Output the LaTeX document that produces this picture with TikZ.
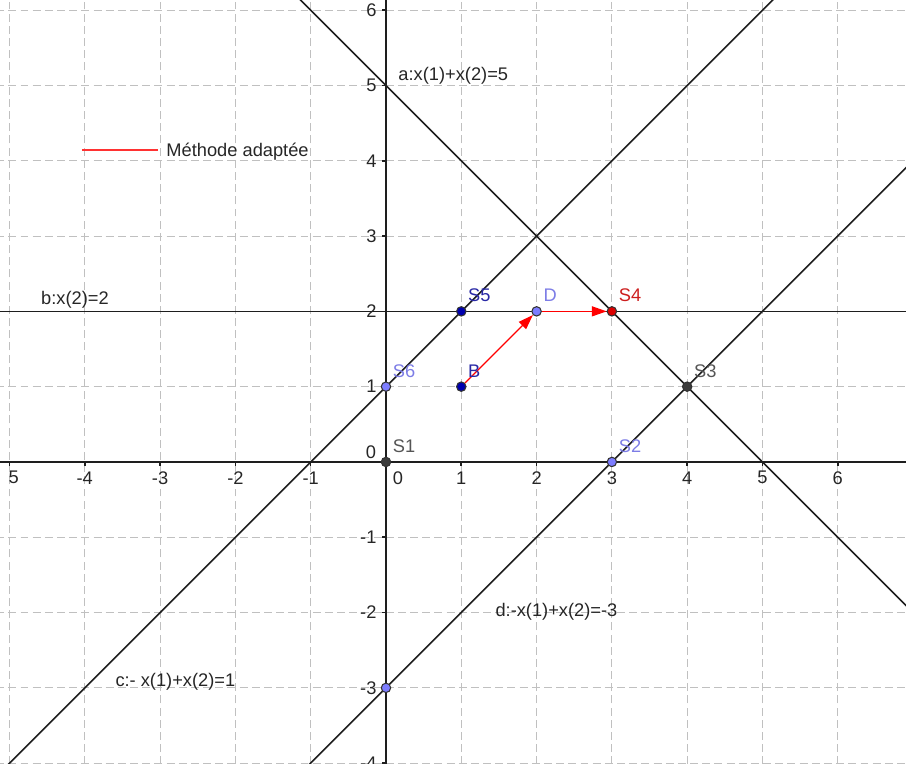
\documentclass[tikz,border=0pt]{standalone}
\usepackage{fontspec}
\setmainfont{Liberation Sans}
\usetikzlibrary{arrows.meta}
\definecolor{gridc}{RGB}{192,192,192}
\definecolor{linec}{RGB}{30,30,30}
\definecolor{dblue}{RGB}{0,0,175}
\definecolor{dbluetxt}{RGB}{40,40,165}
\definecolor{lblue}{RGB}{125,125,255}
\definecolor{lbluetxt}{RGB}{125,125,230}
\definecolor{dgray}{RGB}{60,60,60}
\definecolor{dgraytxt}{RGB}{85,85,85}
\definecolor{pred}{RGB}{220,0,0}
\definecolor{predtxt}{RGB}{204,30,30}
\definecolor{vecred}{RGB}{255,0,0}
\definecolor{legred}{RGB}{255,50,50}
\begin{document}
\begin{tikzpicture}[x=1cm,y=1cm,font=\fontsize{6.9}{8}\selectfont,
  gridline/.style={gridc,line width=0.4pt,dash pattern=on 3pt off 1.6pt},
  axisline/.style={linec,line width=0.6pt},
  eqline/.style={linec,line width=0.6pt},
  vec/.style={vecred,line width=0.45pt,-{Triangle[length=5.6pt,width=3.8pt]}},
  pt/.style={circle,inner sep=0pt,minimum size=0.125cm,line width=0.4pt,draw=black!80},
  ptlabel/.style={anchor=west,inner sep=0pt},
  ticklabel/.style={inner sep=0pt,text=black!85},
  eqlabel/.style={anchor=west,inner sep=0pt,text=black!85}]
\clip (-5.126,-4.011) rectangle (6.906,6.135);
% grid
\foreach \x in {-5,...,6} \draw[gridline] (\x,-4.5) -- (\x,6.5);
\foreach \y in {-4,...,6} \draw[gridline] (-5.5,\y) -- (7.5,\y);
% axes
\coordinate (xl) at (-5.5,0); \coordinate (xr) at (7.5,0);
\coordinate (yb) at (0,-4.5); \coordinate (yt) at (0,6.5);
\draw[axisline] (xl) -- (xr);
\draw[axisline] (yb) -- (yt);
\foreach \x in {-5,...,6} \draw[axisline] (\x,0) -- (\x,-0.05);
\foreach \y in {-4,...,6} \draw[axisline] (0,\y) -- (-0.05,\y);
% tick labels
\foreach \x in {-4,-3,-2,-1,1,2,3,4,5,6} \node[ticklabel] at (\x,-0.21) {\x};
\node[ticklabel] at (-4.945,-0.21) {5};
\node[ticklabel] at (0.16,-0.21) {0};
\foreach \y in {-4,-3,-2,-1,1,2,3,4,5,6} \node[ticklabel,anchor=east] at (-0.12,\y) {\y};
\node[ticklabel,anchor=east] at (-0.125,0.124) {0};
% lines
\coordinate (a1) at (-1.5,6.5); \coordinate (a2) at (7.5,-2.5);
\coordinate (b1) at (-5.5,2); \coordinate (b2) at (7.5,2);
\coordinate (c1) at (-5.5,-4.5); \coordinate (c2) at (5.5,6.5);
\coordinate (d1) at (-1.5,-4.5); \coordinate (d2) at (7.5,4.5);
\draw[eqline] (a1) -- (a2);
\draw[eqline] (b1) -- (b2);
\draw[eqline] (c1) -- (c2);
\draw[eqline] (d1) -- (d2);
% line labels
\node[eqlabel] (la) at (0.159,5.126) {a:x(1)+x(2)=5};
\node[eqlabel] (lb) at (-4.586,2.151) {b:x(2)=2};
\node[eqlabel] (lc) at (-3.599,-2.92) {c:- x(1)+x(2)=1};
\node[eqlabel] (ld) at (1.448,-1.99) {d:-x(1)+x(2)=-3};
% legend
\coordinate (leg1) at (-4.037,4.14); \coordinate (leg2) at (-3.028,4.14);
\draw[legred,line width=0.55pt] (leg1) -- (leg2);
\node[eqlabel] (legt) at (-2.922,4.127) {Méthode adaptée};
% points
\node[pt,fill=dgray] (S1) at (0,0) {};
\node[pt,fill=lblue] (S2) at (3,0) {};
\node[pt,fill=dgray] (S3) at (4,1) {};
\node[pt,fill=pred] (S4) at (3,2) {};
\node[pt,fill=dblue] (S5) at (1,2) {};
\node[pt,fill=lblue] (S6) at (0,1) {};
\node[pt,fill=dblue] (B) at (1,1) {};
\node[pt,fill=lblue] (D) at (2,2) {};
\node[pt,fill=lblue] (P) at (0,-3) {};
% vectors
\draw[vec] (B) -- (D);
\draw[vec] (D) -- (S4);
% point labels
\node[ptlabel,text=dgraytxt] at ([shift={(0.085,0.21)}]S1.center) {S1};
\node[ptlabel,text=lbluetxt] at ([shift={(0.085,0.21)}]S2.center) {S2};
\node[ptlabel,text=dgraytxt] at ([shift={(0.085,0.21)}]S3.center) {S3};
\node[ptlabel,text=predtxt] at ([shift={(0.085,0.21)}]S4.center) {S4};
\node[ptlabel,text=dbluetxt] at ([shift={(0.085,0.21)}]S5.center) {S5};
\node[ptlabel,text=lbluetxt] at ([shift={(0.085,0.21)}]S6.center) {S6};
\node[ptlabel,text=dbluetxt] at ([shift={(0.085,0.21)}]B.center) {B};
\node[ptlabel,text=lbluetxt] at ([shift={(0.085,0.21)}]D.center) {D};
\end{tikzpicture}
\end{document}
